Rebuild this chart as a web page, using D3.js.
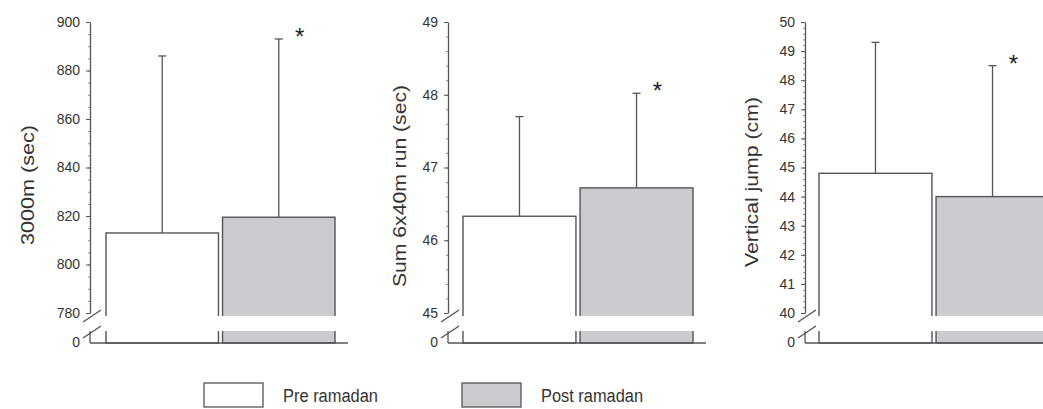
<!DOCTYPE html>
<html><head><meta charset="utf-8">
<script src="https://cdn.jsdelivr.net/npm/d3@7"></script>
<style>body{margin:0;background:#fff;} svg{display:block;font-family:"Liberation Sans",Arial,sans-serif;}</style>
</head><body><svg id="c" width="1043" height="409"></svg>
<script>
// ---- data ----
const groups = ["Pre ramadan", "Post ramadan"];
const panelTitles = ["3000m (sec)", "Sum 6x40m run (sec)", "Vertical jump (cm)"];
const preMeans = [813, 46.33, 44.8];
const postMeans = [819.5, 46.72, 44.0];
const preErrTops = [886, 47.7, 49.3];
const postErrTops = [893, 48.02, 48.5];
const axisLow = [780, 45, 40];
const axisHigh = [900, 49, 50];
const majorTicks = [
  [780, 800, 820, 840, 860, 880, 900],
  [45, 46, 47, 48, 49],
  [40, 41, 42, 43, 44, 45, 46, 47, 48, 49, 50]
];
const minorStep = [5, 0.2, 0.2];
const postSignificant = [true, true, true];

// ---- layout ----
const svg = d3.select("#c");
const axisX = [90, 448, 805];
const barRange = [[106, 335], [463, 693], [819, 1049]];
const titlePos = [[28, 185], [400, 186], [752, 182]];
const titleLen = [120, 202, 170];
const yTop = 22, yLow = 313, yZero = 343, gapTop = 316, gapBot = 331;
const stroke = "#555", grayFill = "#c9cbce", textCol = "#333";
const fills = ["#ffffff", grayFill];

panelTitles.forEach((title, i) => {
  const g = svg.append("g");
  const ax = axisX[i];
  const y = d3.scaleLinear().domain([axisLow[i], axisHigh[i]]).range([yLow, yTop]);
  const x = d3.scaleBand().domain(groups).range(barRange[i]).paddingInner(0.035);
  const means = [preMeans[i], postMeans[i]];
  const errs = [preErrTops[i], postErrTops[i]];

  // bars
  g.selectAll("rect.bar").data(groups).join("rect")
    .attr("class", "bar")
    .attr("x", d => x(d)).attr("width", x.bandwidth())
    .attr("y", (d, j) => y(means[j]))
    .attr("height", (d, j) => yZero - y(means[j]))
    .attr("fill", (d, j) => fills[j])
    .attr("stroke", stroke).attr("stroke-width", 1.4);

  // break gap across bars
  g.append("rect")
    .attr("x", barRange[i][0] - 2).attr("y", gapTop)
    .attr("width", barRange[i][1] - barRange[i][0] + 4).attr("height", gapBot - gapTop)
    .attr("fill", "#fff");

  // error bars
  groups.forEach((d, j) => {
    const cx = x(d) + x.bandwidth() / 2;
    g.append("line").attr("x1", cx).attr("x2", cx)
      .attr("y1", y(means[j])).attr("y2", y(errs[j]))
      .attr("stroke", stroke).attr("stroke-width", 1.3);
    g.append("line").attr("x1", cx - 4).attr("x2", cx + 4)
      .attr("y1", y(errs[j])).attr("y2", y(errs[j]))
      .attr("stroke", stroke).attr("stroke-width", 1.3);
    if (j === 1 && postSignificant[i]) {
      g.append("text").attr("x", cx + 21).attr("y", y(errs[j]) + 6)
        .attr("text-anchor", "middle").attr("font-size", 24).attr("fill", "#222")
        .text("*");
    }
  });

  // baseline
  g.append("line").attr("x1", ax).attr("x2", Math.min(barRange[i][1] + 13, 1043))
    .attr("y1", yZero).attr("y2", yZero).attr("stroke", stroke).attr("stroke-width", 1.4);

  // y axis (upper)
  const minor = d3.range(axisLow[i], axisHigh[i] + minorStep[i] / 2, minorStep[i]);
  const minorAxis = d3.axisLeft(y).tickValues(minor).tickSize(2).tickSizeOuter(0).tickFormat("");
  const gm = g.append("g").attr("transform", `translate(${ax},0)`).call(minorAxis);
  gm.selectAll("line").attr("stroke", "#888");
  gm.select(".domain").attr("stroke", stroke).attr("stroke-width", 1.3);

  const majorAxis = d3.axisLeft(y).tickValues(majorTicks[i]).tickFormat(d3.format("d"))
    .tickSize(4).tickSizeOuter(0).tickPadding(6);
  const ga = g.append("g").attr("transform", `translate(${ax},0)`).call(majorAxis);
  ga.select(".domain").remove();
  ga.selectAll("line").attr("stroke", stroke);
  ga.selectAll("text").attr("font-size", 14).attr("fill", textCol)
    .attr("font-family", "'Liberation Sans', Arial, sans-serif");

  // lower axis segment and zero label
  g.append("line").attr("x1", ax).attr("x2", ax).attr("y1", gapBot).attr("y2", yZero)
    .attr("stroke", stroke).attr("stroke-width", 1.3);
  g.append("text").attr("x", ax - 10).attr("y", yZero).attr("dy", "0.32em")
    .attr("text-anchor", "end").attr("font-size", 14).attr("fill", textCol).text("0");

  // break slashes
  [gapTop, gapBot + 1].forEach(cy => {
    g.append("line").attr("x1", ax - 7).attr("y1", cy + 6).attr("x2", ax + 11).attr("y2", cy - 6)
      .attr("stroke", stroke).attr("stroke-width", 1.3);
  });

  // title
  g.append("text").attr("transform", `translate(${titlePos[i][0]},${titlePos[i][1]}) rotate(-90)`)
    .attr("text-anchor", "middle").attr("dy", "0.35em")
    .attr("font-size", 18).attr("fill", textCol)
    .attr("textLength", titleLen[i]).attr("lengthAdjust", "spacingAndGlyphs")
    .text(title);
});

// legend
const legX = [204, 462];
const legTextLen = [95, 102];
const leg = svg.append("g");
groups.forEach((gname, j) => {
  leg.append("rect").attr("x", legX[j]).attr("y", 383).attr("width", 59).attr("height", 24)
    .attr("fill", fills[j]).attr("stroke", stroke).attr("stroke-width", 1.3);
  leg.append("text").attr("x", legX[j] + 79).attr("y", 402).attr("font-size", 18)
    .attr("fill", textCol).attr("textLength", legTextLen[j]).attr("lengthAdjust", "spacingAndGlyphs")
    .text(gname);
});
</script></body></html>
